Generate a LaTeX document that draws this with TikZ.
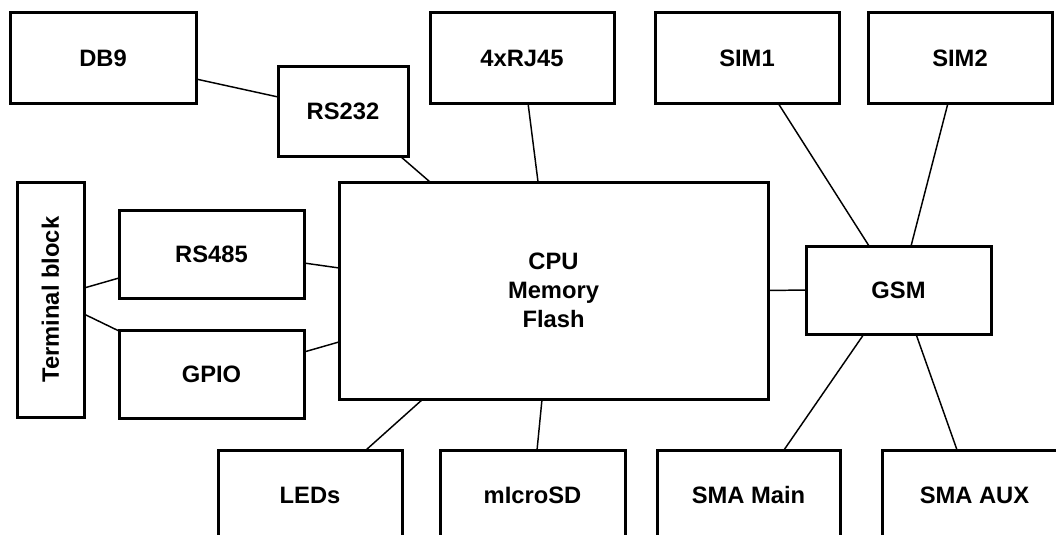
\documentclass[tikz,border=0pt]{standalone}
\usepackage{fontspec}
\setmainfont{Liberation Sans}
\begin{document}
\begin{tikzpicture}[x=0.75pt,y=-0.75pt,
  blk/.style={draw=black,line width=2.25pt,fill=white,inner sep=0pt,outer sep=0pt,
    font=\bfseries\fontsize{17.8}{21.75}\selectfont,align=center},
  conn/.style={draw=black,line width=1.1pt}]
\clip (0,0) rectangle (1056,535);
\fill[white] (0,0) rectangle (1056,535);
% boxes
\node[blk,minimum width=139.5pt,minimum height=67.5pt] (db9) at (103,58) {DB9};
\node[blk,minimum width=97.5pt,minimum height=66.75pt] (rs232) at (343,111.5) {RS232};
\node[blk,minimum width=138pt,minimum height=67.5pt] (rj45) at (522,58) {4xRJ45};
\node[blk,minimum width=138pt,minimum height=67.5pt] (sim1) at (747,58) {SIM1};
\node[blk,minimum width=138pt,minimum height=67.5pt] (sim2) at (960,58) {SIM2};
\node[blk,minimum width=50.25pt,minimum height=176.25pt] (tb) at (50.5,299.5) {\rotatebox{90}{Terminal block}};
\node[blk,minimum width=138.75pt,minimum height=66pt] (rs485) at (211.5,254) {RS485};
\node[blk,minimum width=138.75pt,minimum height=66pt] (gpio) at (211.5,374) {GPIO};
\node[blk,minimum width=321.75pt,minimum height=162.75pt] (cpu) at (553.5,290.5) {CPU\\Memory\\Flash};
\node[blk,minimum width=138.75pt,minimum height=66pt] (gsm) at (898.5,290) {GSM};
\node[blk,minimum width=138pt,minimum height=67.5pt] (leds) at (310,495) {LEDs};
\node[blk,minimum width=138.75pt,minimum height=67.5pt] (sd) at (532.5,495) {mIcroSD};
\node[blk,minimum width=137.25pt,minimum height=67.5pt] (smam) at (748.5,495) {SMA Main};
\node[blk,minimum width=138.75pt,minimum height=67.5pt] (smaa) at (974.5,495) {SMA AUX};
% connectors
\draw[conn] ([yshift=-15.75pt]db9.east) -- ([yshift=10.9pt]rs232.west);
\draw[conn] ([xshift=42.75pt]rs232.south) -- ([xshift=-92.6pt]cpu.north);
\draw[conn] ([xshift=4.5pt]rj45.south) -- ([xshift=-11.6pt]cpu.north);
\draw[conn] ([xshift=23.25pt]sim1.south) -- ([xshift=-22.1pt]gsm.north);
\draw[conn] ([xshift=-9pt]sim2.south) -- ([xshift=9.4pt]gsm.north);
\draw[conn] ([yshift=8.6pt]tb.east) -- ([yshift=-18pt]rs485.west);
\draw[conn] ([yshift=-10.9pt]tb.east) -- ([yshift=32.25pt]gpio.west);
\draw[conn] ([yshift=-6.75pt]rs485.east) -- ([yshift=16.9pt]cpu.west);
\draw[conn] ([yshift=16.5pt]gpio.east) -- ([yshift=-38.6pt]cpu.west);
\draw[conn] (cpu.east) -- (gsm.west);
\draw[conn] ([xshift=-25.9pt]gsm.south) -- ([xshift=26.6pt]smam.north);
\draw[conn] ([xshift=13.1pt]gsm.south) -- ([xshift=-13.1pt]smaa.north);
\draw[conn] ([xshift=-97.9pt]cpu.south) -- ([xshift=42pt]leds.north);
\draw[conn] ([xshift=-8.6pt]cpu.south) -- ([xshift=3.4pt]sd.north);
\end{tikzpicture}
\end{document}
